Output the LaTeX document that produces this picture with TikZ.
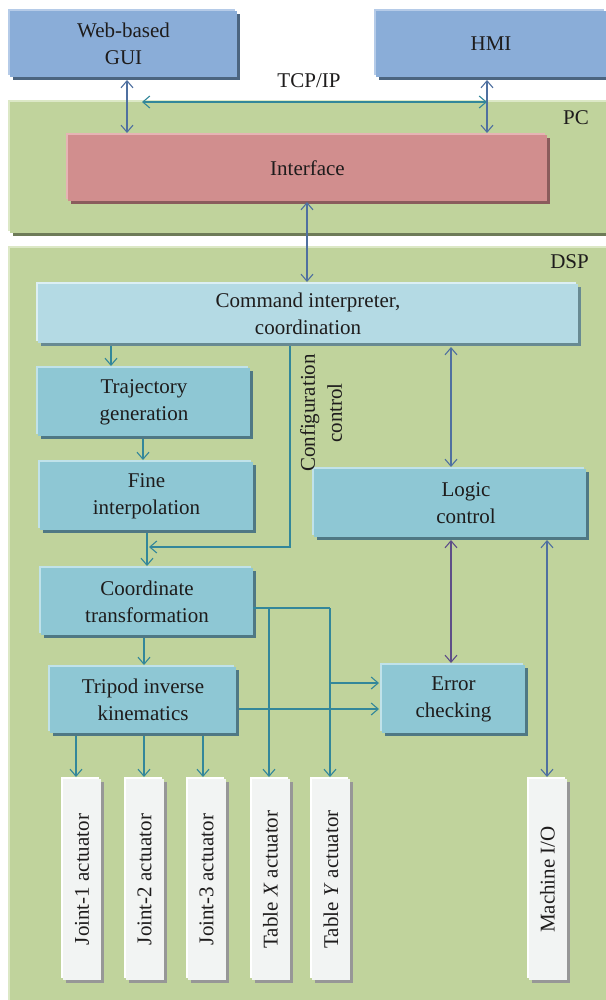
\documentclass[tikz,border=0pt]{standalone}
\usepackage{fontspec}
\usepackage{graphicx}
\setmainfont{Liberation Serif}
\usetikzlibrary{arrows.meta,shadows}
\definecolor{txt}{HTML}{1E1C1C}
\definecolor{bluebox}{HTML}{8AADD8}
\definecolor{bluehi}{HTML}{B5CBE8}
\definecolor{blueshd}{HTML}{4C6580}
\definecolor{greenbg}{HTML}{C0D39C}
\definecolor{greenhi}{HTML}{DCE8C6}
\definecolor{greenshd}{HTML}{6E7B58}
\definecolor{redbox}{HTML}{D18E8E}
\definecolor{redhi}{HTML}{E6B4B4}
\definecolor{redshd}{HTML}{8A5C5C}
\definecolor{cmdbox}{HTML}{B4DAE4}
\definecolor{cmdhi}{HTML}{DCEFF4}
\definecolor{cmdshd}{HTML}{688A92}
\definecolor{tealbox}{HTML}{8EC7D4}
\definecolor{tealhi}{HTML}{C0E2EA}
\definecolor{tealshd}{HTML}{4F7884}
\definecolor{actbox}{HTML}{F2F4F3}
\definecolor{acthi}{HTML}{FFFFFF}
\definecolor{actshd}{HTML}{979797}
\definecolor{arrblue}{HTML}{4F70A0}
\definecolor{arrteal}{HTML}{33879A}
\definecolor{arrpurple}{HTML}{5E4E88}
\begin{document}
\begin{tikzpicture}[x=1pt,y=-1pt,
  >={Straight Barb[length=7pt,width=12pt,line width=1.1pt]},
  bx/.style={rectangle, inner sep=0pt, outer sep=0pt, align=center, text=txt,
    font=\fontsize{21}{27}\selectfont},
  sh/.style n args={3}{fill=#1,
    general shadow={fill=#3, shadow xshift=3pt, shadow yshift=-3pt},
    general shadow={fill=#2, shadow xshift=-2pt, shadow yshift=2pt}},
  greenbx/.style={bx, sh={greenbg}{greenhi}{greenshd}},
  bluebx/.style={bx, sh={bluebox}{bluehi}{blueshd}},
  redbx/.style={bx, sh={redbox}{redhi}{redshd}},
  cmdbx/.style={bx, sh={cmdbox}{cmdhi}{cmdshd}},
  tealbx/.style={bx, sh={tealbox}{tealhi}{tealshd}},
  actbx/.style={bx, sh={actbox}{acthi}{actshd}, minimum width=38pt, minimum height=201pt},
  lbl/.style={inner sep=0pt, text=txt, font=\fontsize{21}{27}\selectfont},
  uni/.style={draw=#1, line width=1.2pt, ->},
  bic/.style={draw=#1, line width=1.2pt, <->},
  plain/.style={draw=#1, line width=1.2pt},
]
\useasboundingbox (0,0) rectangle (605,1000);
\fill[white] (0,0) rectangle (605,1000);

% containers
\node[greenbx, minimum width=600pt, minimum height=131pt] (pc) at (310,167.5) {};
\node[greenbx, minimum width=600pt, minimum height=754pt] (dsp) at (310,625) {};
\node[lbl, anchor=east] (pclbl) at (589,118) {PC};
\node[lbl, anchor=east] (dsplbl) at (589,262) {DSP};

% blocks
\node[bluebx, minimum width=227pt, minimum height=66pt] (gui) at (123.5,44) {Web-based\\GUI};
\node[bluebx, minimum width=230pt, minimum height=66pt] (hmi) at (491,44) {HMI};
\node[lbl] (tcp) at (309,81) {TCP/IP};
\node[redbx, minimum width=479pt, minimum height=66pt] (interface) at (307.5,168) {Interface};
\node[cmdbx, minimum width=540pt, minimum height=59pt] (command) at (308,313.5) {Command interpreter,\\coordination};
\node[tealbx, minimum width=212pt, minimum height=68pt] (traj) at (144,402) {Trajectory\\generation};
\node[tealbx, minimum width=213pt, minimum height=68pt] (fine) at (146.5,496) {Fine\\interpolation};
\node[tealbx, minimum width=272pt, minimum height=68pt] (logic) at (450,503) {\hspace*{32pt}Logic\\\hspace*{32pt}control};
\node[tealbx, minimum width=212pt, minimum height=67pt] (coord) at (147,601.5) {Coordinate\\transformation};
\node[tealbx, minimum width=186pt, minimum height=66pt] (tripod) at (143,700) {Tripod inverse\\kinematics};
\node[tealbx, minimum width=143pt, minimum height=68pt] (error) at (453.5,699) {Error\\checking};
\node[lbl, rotate=90, align=center] (cfg) at (321,413) {Configuration\\control};

% actuators
\node[actbx] (j1) at (82,879.5) {\rotatebox{90}{Joint-1 actuator}};
\node[actbx] (j2) at (144.5,879.5) {\rotatebox{90}{Joint-2 actuator}};
\node[actbx] (j3) at (206.5,879.5) {\rotatebox{90}{Joint-3 actuator}};
\node[actbx] (tx) at (270.5,879.5) {\rotatebox{90}{Table \textit{X} actuator}};
\node[actbx] (ty) at (331,879.5) {\rotatebox{90}{Table \textit{Y} actuator}};
\node[actbx] (mio) at (547.5,879.5) {\rotatebox{90}{Machine I/O}};

% helper coordinates
\coordinate (xa) at (127,0);
\coordinate (xb) at (487,0);
\coordinate (xc) at (307,0);
\coordinate (xd) at (111,0);
\coordinate (xe) at (143,0);
\coordinate (xf) at (147,0);
\coordinate (xg) at (290,0);
\coordinate (xh) at (451,0);
\coordinate (xi) at (144,0);
\coordinate (xj) at (547,0);
\coordinate (xk1) at (76,0);
\coordinate (xk2) at (144,0);
\coordinate (xk3) at (203,0);
\coordinate (xtx) at (269,0);
\coordinate (xty) at (330,0);
\coordinate (ycs) at (0,608);
\coordinate (yeb) at (0,683);
\coordinate (ytb) at (0,709);
\coordinate (cfgend) at (149,547);
\coordinate (tcpl) at (142,102);
\coordinate (tcpr) at (487,102);

% connectors
\draw[bic=arrblue, shorten <=3pt, shorten >=2pt] (gui.south -| xa) -- (interface.north -| xa);
\draw[bic=arrblue, shorten <=3pt, shorten >=2pt] (hmi.south -| xb) -- (interface.north -| xb);
\draw[bic=arrteal] (tcpl) -- (tcpr);
\draw[bic=arrblue, shorten <=1pt, shorten >=2pt] (interface.south -| xc) -- (command.north -| xc);
\draw[uni=arrteal, shorten <=3pt, shorten >=2pt] (command.south -| xd) -- (traj.north -| xd);
\draw[uni=arrteal, shorten <=3pt, shorten >=2pt] (traj.south -| xe) -- (fine.north -| xe);
\draw[uni=arrteal, shorten <=3pt, shorten >=2pt] (fine.south -| xf) -- (coord.north -| xf);
\draw[uni=arrteal, shorten <=3pt] (command.south -| xg) |- (cfgend);
\draw[bic=arrblue, shorten <=4pt, shorten >=2pt] (command.south -| xh) -- (logic.north -| xh);
\draw[uni=arrteal, shorten <=3pt, shorten >=2pt] (coord.south -| xi) -- (tripod.north -| xi);
\draw[plain=arrteal] (coord.east |- ycs) -- (xty |- ycs);
\draw[uni=arrteal, shorten >=2pt] (xtx |- ycs) -- (tx.north -| xtx);
\draw[uni=arrteal, shorten >=2pt] (xty |- ycs) -- (ty.north -| xty);
\draw[uni=arrteal, shorten >=3pt] (xty |- yeb) -- (error.west |- yeb);
\draw[uni=arrteal, shorten <=3pt, shorten >=3pt] (tripod.east |- ytb) -- (error.west |- ytb);
\draw[bic=arrpurple, shorten <=3pt, shorten >=2pt] (logic.south -| xh) -- (error.north -| xh);
\draw[bic=arrblue, shorten <=3pt, shorten >=2pt] (logic.south -| xj) -- (mio.north -| xj);
\draw[uni=arrteal, shorten <=3pt, shorten >=2pt] (tripod.south -| xk1) -- (j1.north -| xk1);
\draw[uni=arrteal, shorten <=3pt, shorten >=2pt] (tripod.south -| xk2) -- (j2.north -| xk2);
\draw[uni=arrteal, shorten <=3pt, shorten >=2pt] (tripod.south -| xk3) -- (j3.north -| xk3);
\end{tikzpicture}
\end{document}
